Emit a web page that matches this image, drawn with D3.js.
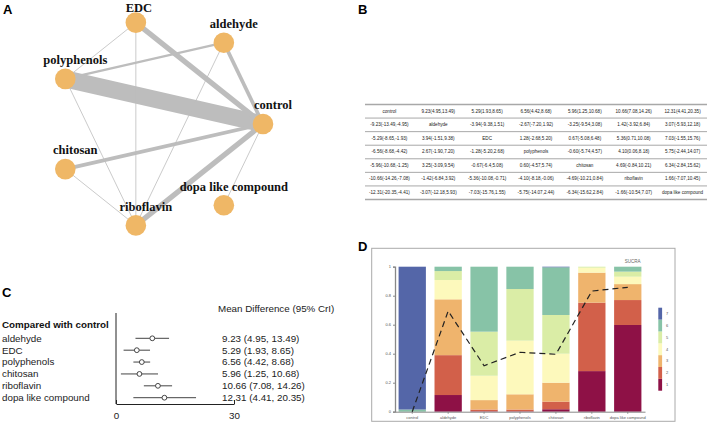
<!DOCTYPE html>
<html>
<head>
<meta charset="utf-8">
<script src="https://cdn.jsdelivr.net/npm/d3@7"></script>
<style>
  body { margin: 0; background: #fff; }
  svg { display: block; font-family: Arial, 'Liberation Sans', sans-serif; }
</style>
</head>
<body>
<svg id="fig" width="708" height="424"></svg>
<script>
const treatments = ['control', 'aldehyde', 'EDC', 'polyphenols', 'chitosan', 'riboflavin', 'dopa like compound'];

// network edges: [from, to, number of studies]
const edges = [
  ['polyphenols', 'control', 12],
  ['EDC', 'control', 4],
  ['riboflavin', 'control', 4],
  ['aldehyde', 'control', 3],
  ['chitosan', 'control', 3],
  ['aldehyde', 'polyphenols', 2],
  ['dopa like compound', 'control', 1],
  ['EDC', 'polyphenols', 1],
  ['EDC', 'riboflavin', 1],
  ['aldehyde', 'riboflavin', 1],
  ['polyphenols', 'riboflavin', 1],
  ['chitosan', 'riboflavin', 1]
];

// forest plot, compared with control
const mdMean = [9.23, 5.29, 6.56, 5.96, 10.66, 12.31];
const mdLow = [4.95, 1.93, 4.42, 1.25, 7.08, 4.41];
const mdHigh = [13.49, 8.65, 8.68, 10.68, 14.26, 20.35];
const forestTicks = [0, 30];

// league table
const league = [
  ['control', '9.23(4.95,13.49)', '5.29(1.93,8.65)', '6.56(4.42,8.68)', '5.96(1.25,10.68)', '10.66(7.08,14.26)', '12.31(4.41,20.35)'],
  ['-9.23(-13.49,-4.95)', 'aldehyde', '-3.94(-9.38,1.51)', '-2.67(-7.20,1.92)', '-3.25(-9.54,3.08)', '1.42(-3.92,6.84)', '3.07(-5.93,12.18)'],
  ['-5.29(-8.65,-1.93)', '3.94(-1.51,9.38)', 'EDC', '1.28(-2.68,5.20)', '0.67(-5.08,6.48)', '5.36(0.71,10.08)', '7.03(-1.55,15.76)'],
  ['-6.56(-8.68,-4.42)', '2.67(-1.90,7.20)', '-1.28(-5.20,2.68)', 'polyphenols', '-0.60(-5.74,4.57)', '4.10(0.06,8.18)', '5.75(-2.44,14.07)'],
  ['-5.96(-10.68,-1.25)', '3.25(-3.09,9.54)', '-0.67(-6.4,5.08)', '0.60(-4.57,5.74)', 'chitosan', '4.69(-0.84,10.21)', '6.34(-2.84,15.62)'],
  ['-10.66(-14.26,-7.08)', '-1.42(-6.84,3.92)', '-5.36(-10.08,-0.71)', '-4.10(-8.18,-0.06)', '-4.69(-10.21,0.84)', 'riboflavin', '1.66(-7.07,10.45)'],
  ['-12.31(-20.35,-4.41)', '-3.07(-12.18,5.93)', '-7.03(-15.76,1.55)', '-5.75(-14.07,2.44)', '-6.34(-15.62,2.84)', '-1.66(-10.54,7.07)', 'dopa like compound']
];

// rank probabilities (one array per rank, in treatment order)
const ranks = ['1', '2', '3', '4', '5', '6', '7'];
const rank1 = [0, 0.115, 0.003, 0.003, 0.017, 0.28, 0.598];
const rank2 = [0, 0.275, 0.012, 0.012, 0.052, 0.472, 0.172];
const rank3 = [0, 0.385, 0.065, 0.105, 0.131, 0.207, 0.11];
const rank4 = [0, 0.133, 0.168, 0.37, 0.2, 0.034, 0.051];
const rank5 = [0, 0.062, 0.304, 0.356, 0.267, 0.007, 0.035];
const rank6 = [0.015, 0.03, 0.448, 0.154, 0.329, 0, 0.034];
const rank7 = [0.985, 0, 0, 0, 0.004, 0, 0];
const sucra = [0, 0.694, 0.317, 0.41, 0.396, 0.832, 0.858];
const rankColors = ['#8E1146', '#D2604A', '#EFB46D', '#FDF9BC', '#DAEDA6', '#87C3A7', '#5466A8'];

const svg = d3.select('#fig');

function panelLabel(txt, x, y) {
  svg.append('text')
    .attr('x', x).attr('y', y)
    .style('font-weight', 'bold')
    .style('font-size', '13px')
    .text(txt);
}

// ---------- A: network ----------
panelLabel('A', 3, 13.5);
const net = { cx: 159, cy: 124, r: 104 };
const angle = d3.scaleLinear().domain([0, treatments.length]).range([0, -2 * Math.PI]);
const pos = new Map(treatments.map((t, i) => [t, [
  net.cx + net.r * Math.cos(angle(i)),
  net.cy + net.r * Math.sin(angle(i))
]]));
const edgeWidth = d3.scaleLinear().domain([1, 12]).range([0.8, 17]);

let gA = svg.append('g');
gA.selectAll('.edge')
  .data(edges)
  .enter().append('line')
  .attr('class', 'edge')
  .attr('x1', function(d) { return pos.get(d[0])[0]; })
  .attr('y1', function(d) { return pos.get(d[0])[1]; })
  .attr('x2', function(d) { return pos.get(d[1])[0]; })
  .attr('y2', function(d) { return pos.get(d[1])[1]; })
  .attr('stroke', '#BDBDBD')
  .attr('stroke-width', function(d) { return edgeWidth(d[2]); });

gA.selectAll('.node')
  .data(treatments)
  .enter().append('circle')
  .attr('class', 'node')
  .attr('cx', function(d) { return pos.get(d)[0]; })
  .attr('cy', function(d) { return pos.get(d)[1]; })
  .attr('r', 10.3)
  .attr('fill', '#EFB766');

// labels sit above-right of each node, kept inside the top edge
gA.selectAll('.nlabel')
  .data(treatments)
  .enter().append('text')
  .attr('class', 'nlabel')
  .attr('x', function(d) {
    let p = pos.get(d);
    return p[0] + (p[1] - 19 < 8 ? 3 : 10);
  })
  .attr('y', function(d) { return Math.max(pos.get(d)[1] - 19, 8); })
  .attr('dy', '0.35em')
  .attr('text-anchor', 'middle')
  .style('font-family', "'Liberation Serif', 'Times New Roman', serif")
  .style('font-weight', 'bold')
  .style('font-size', '12.5px')
  .attr('fill', '#111')
  .text(function(d) { return d; });

// ---------- B: league table ----------
panelLabel('B', 358, 13.5);
let col = d3.scaleBand().domain(d3.range(7)).range([365, 707]);
let row = d3.scaleBand().domain(d3.range(7)).range([104.5, 199.5]);
let gB = svg.append('g');
gB.selectAll('.hline')
  .data(d3.range(8))
  .enter().append('line')
  .attr('class', 'hline')
  .attr('x1', 365).attr('x2', 707)
  .attr('y1', function(i) { return i < 7 ? row(i) : row(6) + row.bandwidth(); })
  .attr('y2', function(i) { return i < 7 ? row(i) : row(6) + row.bandwidth(); })
  .attr('stroke', '#A8A8A8')
  .attr('stroke-width', function(i) { return (i === 0 || i === 7) ? 1.6 : 1; });

league.forEach(function(r, i) {
  gB.selectAll('.c' + i)
    .data(r)
    .enter().append('text')
    .attr('x', function(d, j) { return col(j) + col.bandwidth() / 2; })
    .attr('y', row(i) + 6.5)
    .attr('dy', '0.35em')
    .attr('text-anchor', 'middle')
    .style('font-size', '4.6px')
    .attr('fill', '#222')
    .text(function(d) { return d; });
});

// ---------- C: forest plot ----------
panelLabel('C', 2, 297);
const others = treatments.slice(1);
let fx = d3.scaleLinear().domain([0, 30]).range([116, 234]);
let fy = d3.scalePoint().domain(others).range([338.3, 397.7]);
let gC = svg.append('g').style('font-size', '9.8px');

gC.append('text').attr('x', 218).attr('y', 309).attr('dy', '0.35em')
  .attr('fill', '#222').text('Mean Difference (95% CrI)');
gC.append('text').attr('x', 2).attr('y', 325).attr('dy', '0.35em')
  .style('font-weight', 'bold').attr('fill', '#111').text('Compared with control');

gC.append('line')
  .attr('x1', fx(0)).attr('x2', fx(0))
  .attr('y1', 313).attr('y2', 404)
  .attr('stroke', '#222');

gC.append('g')
  .attr('transform', 'translate(0,404)')
  .call(d3.axisBottom(fx).tickValues(forestTicks).tickSizeInner(-4).tickSizeOuter(0).tickPadding(8))
  .call(function(g) {
    g.selectAll('text').style('font-size', '9.8px').attr('fill', '#222')
      .style('font-family', "Arial, 'Liberation Sans', sans-serif");
    g.selectAll('line, path').attr('stroke', '#222');
  });

let fr = gC.selectAll('.frow')
  .data(others)
  .enter().append('g')
  .attr('class', 'frow')
  .attr('transform', function(d) { return 'translate(0,' + fy(d) + ')'; });

fr.append('text').attr('x', 2).attr('dy', '0.35em').attr('fill', '#222')
  .text(function(d) { return d; });
fr.append('line')
  .attr('x1', function(d, i) { return fx(mdLow[i]); })
  .attr('x2', function(d, i) { return fx(mdHigh[i]); })
  .attr('stroke', '#444');
fr.append('circle')
  .attr('cx', function(d, i) { return fx(mdMean[i]); })
  .attr('r', 2.4)
  .attr('fill', '#fff')
  .attr('stroke', '#444');
const f2 = d3.format('.2f');
fr.append('text').attr('x', 222).attr('dy', '0.35em').attr('fill', '#222')
  .text(function(d, i) { return f2(mdMean[i]) + ' (' + f2(mdLow[i]) + ', ' + f2(mdHigh[i]) + ')'; });

// ---------- D: rank probabilities ----------
panelLabel('D', 358, 250.5);
let gD = svg.append('g');
gD.append('rect')
  .attr('x', 371.7).attr('y', 248.3)
  .attr('width', 303.3).attr('height', 173)
  .attr('fill', 'none').attr('stroke', '#AAAAAA');

const rankData = treatments.map(function(t, i) {
  return {
    name: t, '1': rank1[i], '2': rank2[i], '3': rank3[i], '4': rank4[i],
    '5': rank5[i], '6': rank6[i], '7': rank7[i], sucra: sucra[i]
  };
});
let bx = d3.scaleBand().domain(treatments).range([395, 645]).paddingInner(0.24).paddingOuter(0.1);
let by = d3.scaleLinear().domain([0, 1]).range([411.7, 266.7]);
let color = d3.scaleOrdinal().domain(ranks).range(rankColors);
let series = d3.stack().keys(ranks)(rankData);

gD.selectAll('.layer')
  .data(series)
  .enter().append('g')
  .attr('class', 'layer')
  .attr('fill', function(d) { return color(d.key); })
  .selectAll('rect')
  .data(function(d) { return d; })
  .enter().append('rect')
  .attr('x', function(d) { return bx(d.data.name); })
  .attr('width', bx.bandwidth())
  .attr('y', function(d) { return by(d[1]); })
  .attr('height', function(d) { return by(d[0]) - by(d[1]); });

gD.append('g')
  .attr('transform', 'translate(395,0)')
  .call(d3.axisLeft(by).tickValues([0, 0.2, 0.4, 0.6, 0.8, 1]).tickFormat(d3.format('~g')).tickSize(2).tickPadding(2))
  .call(function(g) {
    g.select('.domain').attr('stroke', '#888').attr('stroke-width', 1.3);
    g.selectAll('line').attr('stroke', '#888');
    g.selectAll('text').style('font-size', '4px').attr('fill', '#555');
  });

gD.append('g')
  .attr('transform', 'translate(0,411.7)')
  .call(d3.axisBottom(bx).tickSize(2).tickSizeOuter(0).tickPadding(2))
  .call(function(g) {
    g.select('.domain').attr('stroke', '#888');
    g.selectAll('line').attr('stroke', '#888');
    g.selectAll('text').style('font-size', '4px').attr('fill', '#555');
  });

let sucraLine = d3.line()
  .x(function(d) { return bx(d.name) + bx.bandwidth() / 2; })
  .y(function(d) { return by(d.sucra); });
gD.append('path')
  .datum(rankData)
  .attr('d', sucraLine)
  .attr('fill', 'none')
  .attr('stroke', '#222')
  .attr('stroke-width', 1.2)
  .attr('stroke-dasharray', '6,4');

gD.append('text')
  .attr('x', 632.7).attr('y', 261).attr('dy', '0.35em')
  .attr('text-anchor', 'middle')
  .style('font-size', '4.5px').attr('fill', '#666')
  .text('SUCRA');

// legend
let ly = d3.scaleBand().domain(ranks.slice().reverse()).range([307.7, 390.7]);
let lg = gD.selectAll('.leg')
  .data(ranks)
  .enter().append('g')
  .attr('class', 'leg');
lg.append('rect')
  .attr('x', 658.3)
  .attr('y', function(d) { return ly(d); })
  .attr('width', 3.8)
  .attr('height', ly.bandwidth())
  .attr('fill', function(d) { return color(d); });
lg.append('text')
  .attr('x', 666)
  .attr('y', function(d) { return ly(d) + ly.bandwidth() / 2; })
  .attr('dy', '0.35em')
  .style('font-size', '4px').attr('fill', '#555')
  .text(function(d) { return d; });
</script>
</body>
</html>
